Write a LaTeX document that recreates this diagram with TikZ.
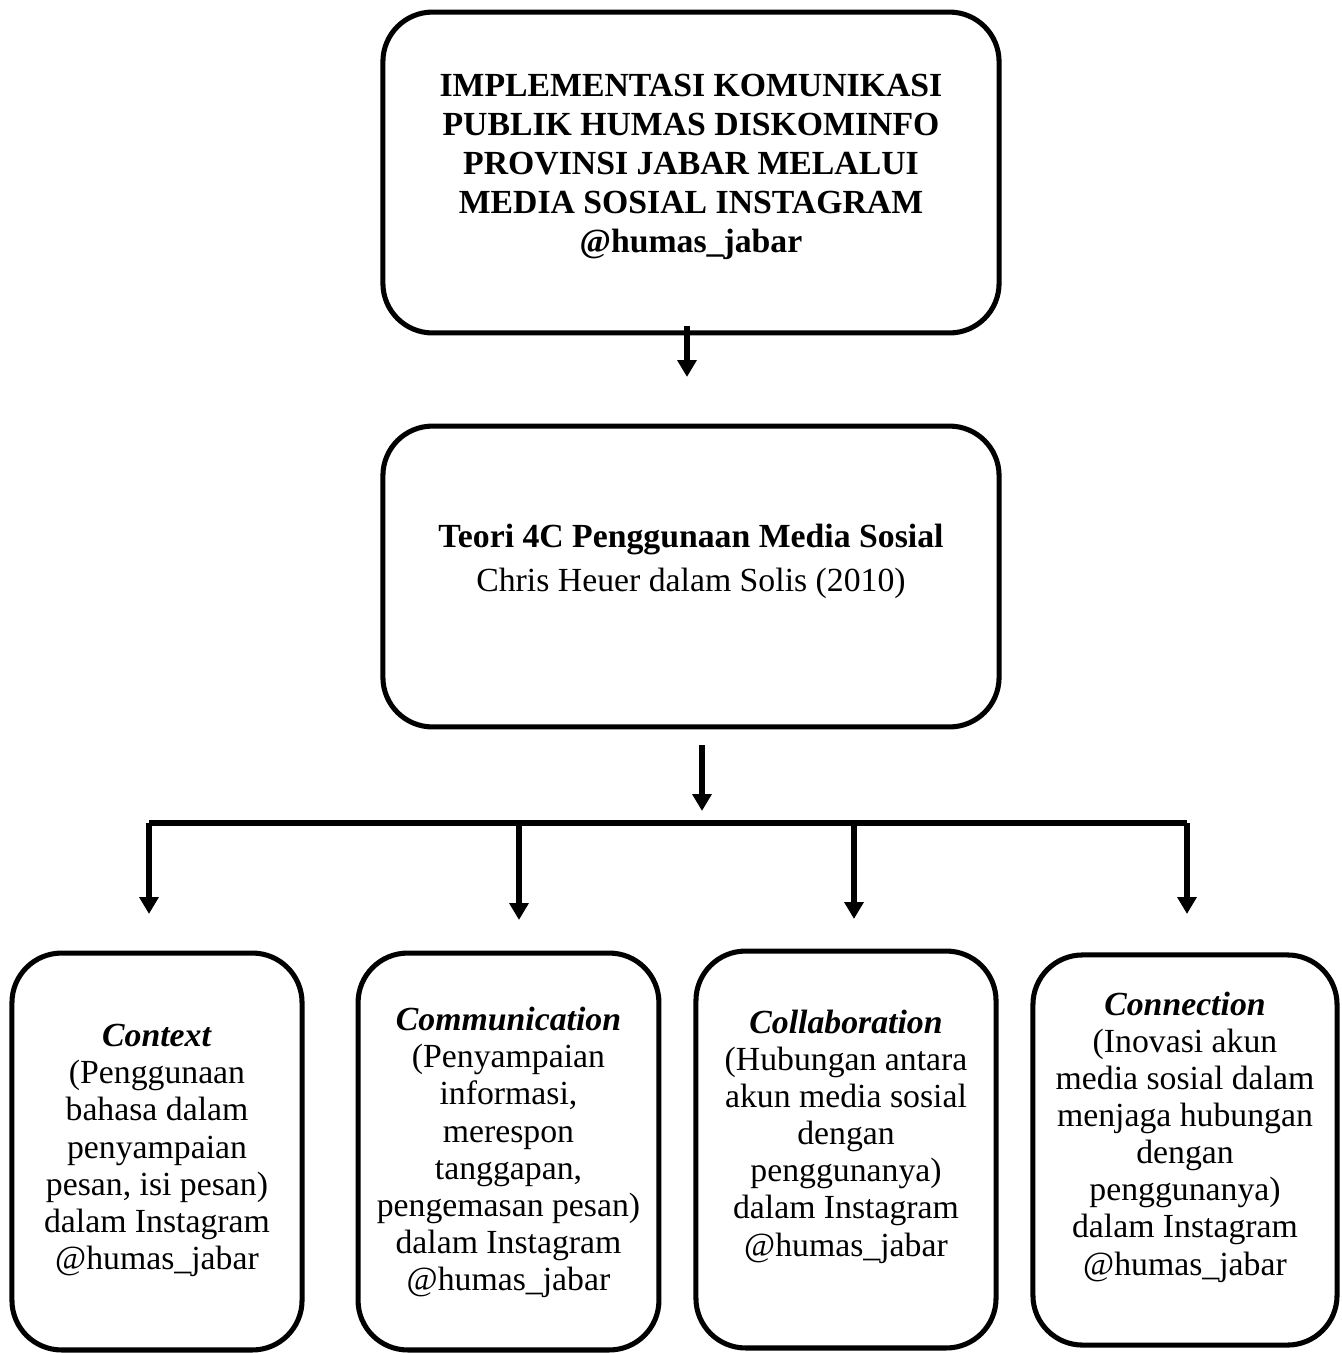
\documentclass[tikz,border=0pt]{standalone}
\usepackage{fontspec}
\setmainfont{Liberation Serif}
\usetikzlibrary{arrows.meta,positioning}

\begin{document}
\begin{tikzpicture}[x=0.0125cm,y=-0.0125cm,
  kotak/.style={draw,line width=1.8pt,rounded corners=0.62cm},
  isi/.style={align=center,inner sep=0pt,font=\fontsize{12}{13.2}\selectfont},
  panah/.style={line width=1.9pt,-{Triangle[width=6.6pt,length=6pt]}}]
\useasboundingbox (0,0) rectangle (1342,1353);
% kotak
\node[kotak,minimum width=7.7cm,minimum height=4.01cm] (A) at (691,172.5) {};
\node[kotak,minimum width=7.7cm,minimum height=3.76cm] (B) at (691,576.5) {};
\node[kotak,minimum width=3.625cm,minimum height=4.96cm] (C1) at (157,1151.5) {};
\node[kotak,minimum width=3.76cm,minimum height=4.96cm] (C2) at (508.5,1151.5) {};
\node[kotak,minimum width=3.75cm,minimum height=4.96cm] (C3) at (846,1149.5) {};
\node[kotak,minimum width=3.8cm,minimum height=4.875cm] (C4) at (1185,1150) {};
% teks
\node[isi,font=\bfseries\fontsize{12}{13.9}\selectfont] (At) at (691,167) {IMPLEMENTASI KOMUNIKASI\\PUBLIK HUMAS DISKOMINFO\\PROVINSI JABAR MELALUI\\MEDIA SOSIAL INSTAGRAM\\@humas\_jabar};
\node[isi] (Bt) at (691,561) {\textbf{Teori 4C Penggunaan Media Sosial}\\[2.4pt]Chris Heuer dalam Solis (2010)};
\node[isi] (C1t) at (157,1150.5) {\textbf{\textit{Context}}\\(Penggunaan\\bahasa dalam\\penyampaian\\pesan, isi pesan)\\dalam Instagram\\@humas\_jabar};
\node[isi] (C2t) at (508.5,1152.5) {\textbf{\textit{Communication}}\\(Penyampaian\\informasi,\\merespon\\tanggapan,\\pengemasan pesan)\\dalam Instagram\\@humas\_jabar};
\node[isi] (C3t) at (846,1136.5) {\textbf{\textit{Collaboration}}\\(Hubungan antara\\akun media sosial\\dengan\\penggunanya)\\dalam Instagram\\@humas\_jabar};
\node[isi] (C4t) at (1185,1137) {\textbf{\textit{Connection}}\\(Inovasi akun\\media sosial dalam\\menjaga hubungan\\dengan\\penggunanya)\\dalam Instagram\\@humas\_jabar};
% ujung panah
\coordinate (a1) at (687,326);
\coordinate (a2) at (687,377);
\coordinate (b1) at (702,745);
\coordinate (b2) at (702,811);
\coordinate (busL) at (149,823);
\coordinate (busR) at (1187,823);
\coordinate (d1) at (149,914);
\coordinate (d2) at (519,920);
\coordinate (d3) at (854,919);
\coordinate (d4) at (1187,914);
\draw[panah] (a1) -- (a2);
\draw[panah] (b1) -- (b2);
\draw[line width=1.8pt] (busL) -- (busR);
\draw[panah] (busL) -- (d1);
\draw[panah] (busL -| d2) -- (d2);
\draw[panah] (busL -| d3) -- (d3);
\draw[panah] (busR) -- (d4);
\end{tikzpicture}
\end{document}
